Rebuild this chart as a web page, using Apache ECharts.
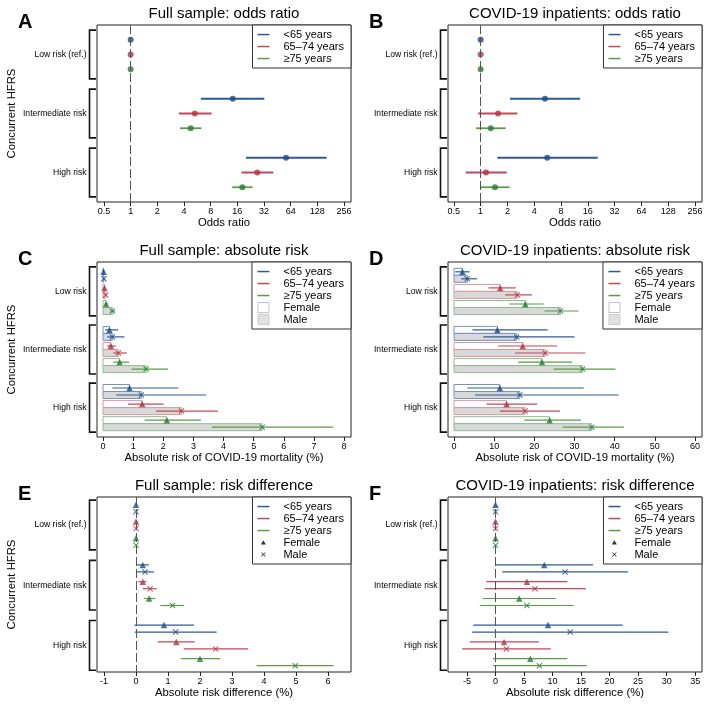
<!DOCTYPE html>
<html><head><meta charset="utf-8">
<script src="https://cdn.jsdelivr.net/npm/echarts@6/dist/echarts.min.js"></script>
<style>html,body{margin:0;padding:0;background:#fff}#c{width:709px;height:709px}</style>
</head><body><div id="c"></div><script>
// ---------- categories & tick labels ----------
const ageGroups = ['<65 years', '65–74 years', '≥75 years'];
const riskRef = ['Low risk (ref.)', 'Intermediate risk', 'High risk'];
const riskAbs = ['Low risk', 'Intermediate risk', 'High risk'];
const orTicks = [0.5, 1, 2, 4, 8, 16, 32, 64, 128, 256];
const absFullTicks = [0, 1, 2, 3, 4, 5, 6, 7, 8];
const absInpTicks = [0, 10, 20, 30, 40, 50, 60];
const rdFullTicks = [-1, 0, 1, 2, 3, 4, 5, 6];
const rdInpTicks = [-5, 0, 5, 10, 15, 20, 25, 30, 35];

// ---------- values: [estimate, lower, upper] for low / intermediate / high risk ----------
// A: full sample, odds ratio
const orFull_lt65   = [[1, null, null], [14.2, 6.2, 32.3], [56.7, 20, 163]];
const orFull_65to74 = [[1, null, null], [5.3, 3.5, 8.2], [26.9, 17.8, 40.8]];
const orFull_ge75   = [[1, null, null], [4.76, 3.6, 6.3], [18.2, 14.0, 23.8]];
// B: COVID-19 inpatients, odds ratio
const orInp_lt65   = [[1, null, null], [5.28, 2.14, 13.1], [5.6, 1.54, 20.7]];
const orInp_65to74 = [[1, null, null], [1.57, 0.94, 2.59], [1.15, 0.68, 1.97]];
const orInp_ge75   = [[1, null, null], [1.30, 0.89, 1.91], [1.45, 1.0, 2.11]];
// C: full sample, absolute risk (%)
const arFull_lt65_f   = [[0.02, 0.01, 0.04], [0.21, 0.07, 0.50], [0.88, 0.31, 2.50]];
const arFull_lt65_m   = [[0.03, 0.02, 0.05], [0.31, 0.14, 0.71], [1.27, 0.44, 3.42]];
const arFull_65to74_f = [[0.05, 0.03, 0.08], [0.26, 0.14, 0.42], [1.30, 0.83, 2.01]];
const arFull_65to74_m = [[0.09, 0.06, 0.13], [0.51, 0.34, 0.79], [2.60, 1.75, 3.81]];
const arFull_ge75_f   = [[0.10, 0.06, 0.16], [0.55, 0.34, 0.87], [2.12, 1.38, 3.25]];
const arFull_ge75_m   = [[0.31, 0.24, 0.40], [1.43, 0.95, 2.16], [5.28, 3.61, 7.64]];
// D: COVID-19 inpatients, absolute risk (%)
const arInp_lt65_f   = [[2.1, 0.3, 3.9], [10.8, 4.6, 23.3], [11.4, 3.3, 32.3]];
const arInp_lt65_m   = [[3.3, 1.8, 5.7], [15.6, 7.3, 30.0], [16.4, 5.25, 41.0]];
const arInp_65to74_f = [[11.5, 8.6, 15.4], [17.1, 11.0, 25.7], [13.1, 8.1, 20.7]];
const arInp_65to74_m = [[15.75, 12.75, 19.4], [22.7, 15.2, 32.7], [17.7, 11.4, 26.4]];
const arInp_ge75_f   = [[17.75, 13.75, 22.3], [21.9, 16.0, 29.4], [23.8, 17.5, 31.6]];
const arInp_ge75_m   = [[26.5, 22.5, 31.0], [32.0, 24.8, 40.2], [34.3, 27.1, 42.3]];
// E: full sample, risk difference (%)
const rdFull_lt65_f   = [[0, null, null], [0.21, 0.02, 0.40], [0.875, -0.05, 1.81]];
const rdFull_lt65_m   = [[0, null, null], [0.28, 0.02, 0.56], [1.24, -0.04, 2.52]];
const rdFull_65to74_f = [[0, null, null], [0.21, 0.07, 0.33], [1.26, 0.68, 1.84]];
const rdFull_65to74_m = [[0, null, null], [0.44, 0.21, 0.65], [2.49, 1.49, 3.51]];
const rdFull_ge75_f   = [[0, null, null], [0.41, 0.25, 0.60], [2.00, 1.40, 2.63]];
const rdFull_ge75_m   = [[0, null, null], [1.14, 0.76, 1.50], [4.98, 3.77, 6.17]];
// F: COVID-19 inpatients, risk difference (%)
const rdInp_lt65_f   = [[0, null, null], [8.54, 0.1, 17.1], [9.2, -3.9, 22.3]];
const rdInp_lt65_m   = [[0, null, null], [12.2, 1.2, 23.2], [13.1, -4.1, 30.3]];
const rdInp_65to74_f = [[0, null, null], [5.5, -1.6, 12.6], [1.5, -4.5, 7.6]];
const rdInp_65to74_m = [[0, null, null], [6.9, -1.9, 15.8], [1.9, -5.85, 9.7]];
const rdInp_ge75_f   = [[0, null, null], [4.15, -2.2, 10.6], [6.1, -0.47, 12.6]];
const rdInp_ge75_m   = [[0, null, null], [5.5, -2.75, 13.7], [7.7, -0.4, 16.0]];

// ---------- styling ----------
const FONT = 'Liberation Sans, Arial, Helvetica, sans-serif';
const COLORS = [
  {line: '#2c5a98', mark: '#1d4a88', bar: '#7393c4'},
  {line: '#c04a58', mark: '#b03242', bar: '#dd949c'},
  {line: '#5b9c46', mark: '#2a7838', bar: '#8cbc8f'}
];
function crossPath(cx, cy, r, t) {
  const p = [[cx-r+t, cy-r], [cx, cy-t], [cx+r-t, cy-r], [cx+r, cy-r+t], [cx+t, cy], [cx+r, cy+r-t],
             [cx+r-t, cy+r], [cx, cy+t], [cx-r+t, cy+r], [cx-r, cy+r-t], [cx-t, cy], [cx-r, cy-r+t]];
  return 'M' + p.map(q => q[0].toFixed(2) + ',' + q[1].toFixed(2)).join('L') + 'Z';
}
const SYM_X = 'path://' + crossPath(5, 5, 5, 1.25);
const ICON_LINE = 'path://M0,0M21,11M0,4.8L12,4.8L12,6.3L0,6.3Z';
const ICON_BOX = 'path://M0,0M21,11M0.5,0.5L11.5,0.5L11.5,10.5L0.5,10.5Z';
const ICON_TRI = 'path://M0,0M21,11M3.4,7.6L5.9,3.2L8.4,7.6Z';
const ICON_X = 'path://M0,0M21,11' + crossPath(5.9, 5.5, 2.3, 0.55);

// ---------- row layouts ----------
const layouts = {
  or:  {yMin: -1, yMax: 11, half: 1.65, pos: (g, a, s) => 4 * g + a, center: g => 4 * g + 1},
  abs: {yMin: 0, yMax: 25, half: 3.5, pos: (g, a, s) => 1.4 + 8.3 * g + 2.3 * a + s, center: g => 1.4 + 8.3 * g + 2.8},
  rd:  {yMin: 0, yMax: 25, half: 3.55, pos: (g, a, s) => 1.1 + 8.6 * g + 2.4 * a + s, center: g => 1.1 + 8.6 * g + 2.9}
};

const panels = [
  {letter: 'A', title: 'Full sample: odds ratio', left: 97, top: 25, height: 177, kind: 'or', xType: 'log',
   xMin: 0.417, xMax: 307, ticks: orTicks, xName: 'Odds ratio', groups: riskRef, yName: true, ref: 1,
   est: [orFull_lt65, orFull_65to74, orFull_ge75]},
  {letter: 'B', title: 'COVID-19 inpatients: odds ratio', left: 448, top: 25, height: 177, kind: 'or', xType: 'log',
   xMin: 0.43, xMax: 307, ticks: orTicks, xName: 'Odds ratio', groups: riskRef, yName: false, ref: 1,
   est: [orInp_lt65, orInp_65to74, orInp_ge75]},
  {letter: 'C', title: 'Full sample: absolute risk', left: 97, top: 262, height: 175, kind: 'abs',
   xMin: -0.2, xMax: 8.23, ticks: absFullTicks, xName: 'Absolute risk of COVID-19 mortality (%)', groups: riskAbs, yName: true,
   fem: [arFull_lt65_f, arFull_65to74_f, arFull_ge75_f], mal: [arFull_lt65_m, arFull_65to74_m, arFull_ge75_m]},
  {letter: 'D', title: 'COVID-19 inpatients: absolute risk', left: 448, top: 262, height: 175, kind: 'abs',
   xMin: -1.5, xMax: 61.75, ticks: absInpTicks, xName: 'Absolute risk of COVID-19 mortality (%)', groups: riskAbs, yName: false,
   fem: [arInp_lt65_f, arInp_65to74_f, arInp_ge75_f], mal: [arInp_lt65_m, arInp_65to74_m, arInp_ge75_m]},
  {letter: 'E', title: 'Full sample: risk difference', left: 97, top: 497, height: 175, kind: 'rd',
   xMin: -1.22, xMax: 6.72, ticks: rdFullTicks, xName: 'Absolute risk difference (%)', groups: riskRef, yName: true, ref: 0,
   fem: [rdFull_lt65_f, rdFull_65to74_f, rdFull_ge75_f], mal: [rdFull_lt65_m, rdFull_65to74_m, rdFull_ge75_m]},
  {letter: 'F', title: 'COVID-19 inpatients: risk difference', left: 448, top: 497, height: 175, kind: 'rd',
   xMin: -8.33, xMax: 36.2, ticks: rdInpTicks, xName: 'Absolute risk difference (%)', groups: riskRef, yName: false, ref: 0,
   fem: [rdInp_lt65_f, rdInp_65to74_f, rdInp_ge75_f], mal: [rdInp_lt65_m, rdInp_65to74_m, rdInp_ge75_m]}
];

const PW = 254, CW = 709;
const grid = [], xAxis = [], yAxis = [], series = [], legend = [], title = [];

function ciRender(color, lw) {
  return (params, api) => {
    const p1 = api.coord([api.value(0), api.value(2)]);
    const p2 = api.coord([api.value(1), api.value(2)]);
    return {type: 'line', shape: {x1: p1[0], y1: p1[1], x2: p2[0], y2: p2[1]}, style: {stroke: color, lineWidth: lw}};
  };
}
function barRender(color) {
  return (params, api) => {
    const a = api.coord([0, api.value(1)]);
    const b = api.coord([api.value(0), api.value(1)]);
    const h = api.size([0, 1])[1];
    return {type: 'rect', shape: {x: a[0], y: a[1] - h / 2, width: b[0] - a[0], height: h},
            style: {fill: api.value(2) ? '#d9d9d9' : '#ffffff', stroke: color, lineWidth: 1}};
  };
}
function bracketRender(lay, groups, xMin) {
  return (params, api) => {
    const g = api.value(0);
    const c = lay.center(g);
    const t = api.coord([xMin, c - lay.half]);
    const b = api.coord([xMin, c + lay.half]);
    const x0 = t[0];
    return {type: 'group', children: [
      {type: 'polyline', shape: {points: [[x0 - 1, t[1]], [x0 - 7.5, t[1]], [x0 - 7.5, b[1]], [x0 - 1, b[1]]]},
       style: {stroke: '#111', lineWidth: 1.6, fill: 'none'}},
      {type: 'text', style: {text: groups[g], x: x0 - 10.5, y: (t[1] + b[1]) / 2, align: 'right', verticalAlign: 'middle',
       fontSize: 8.6, fontFamily: FONT, fill: '#000'}}
    ]};
  };
}

panels.forEach((p, i) => {
  const lay = layouts[p.kind];
  grid.push({left: p.left, top: p.top, width: PW, height: p.height, show: true, borderColor: '#222', borderWidth: 1, backgroundColor: '#fff'});
  const xa = {gridIndex: i, type: p.xType || 'value', min: p.xMin, max: p.xMax, position: 'bottom',
    axisLine: {show: false, onZero: false}, splitLine: {show: false}, minorTick: {show: false},
    axisTick: {show: true, length: 4, customValues: p.ticks, lineStyle: {color: '#222'}},
    axisLabel: {customValues: p.ticks, fontSize: 9, color: '#000', margin: 5, fontFamily: FONT},
    name: p.xName, nameLocation: 'middle', nameGap: 15,
    nameTextStyle: {fontSize: 11.3, color: '#000', fontFamily: FONT}};
  if (p.xType === 'log') xa.logBase = 2;
  xAxis.push(xa);
  yAxis.push({gridIndex: i, type: 'value', inverse: true, min: lay.yMin, max: lay.yMax, position: 'left',
    axisLine: {show: false, onZero: false}, axisTick: {show: false}, axisLabel: {show: false}, splitLine: {show: false},
    name: p.yName ? 'Concurrent HFRS' : '', nameLocation: 'middle', nameRotate: 90, nameGap: 80,
    nameTextStyle: {fontSize: 11.3, color: '#000', fontFamily: FONT}});
  title.push({text: p.title, left: p.left + PW / 2, top: p.top - 19, textAlign: 'center', padding: 0,
    textStyle: {fontSize: 15, fontWeight: 'normal', color: '#000', fontFamily: FONT}});
  title.push({text: p.letter, left: p.left - 79, top: p.top - 13, padding: 0,
    textStyle: {fontSize: 20, fontWeight: 'bold', color: '#000', fontFamily: FONT}});

  // reference line
  if (p.ref !== undefined) {
    series.push({type: 'line', name: '_ref' + i, xAxisIndex: i, yAxisIndex: i, data: [], silent: true, z: 1,
      markLine: {silent: true, symbol: 'none', label: {show: false}, animation: false,
        lineStyle: {color: '#555', type: [9, 3], width: 1}, data: [{xAxis: p.ref}]}});
  }
  // brackets with group labels
  series.push({type: 'custom', name: '_br' + i, xAxisIndex: i, yAxisIndex: i, silent: true, clip: false,
    encode: {y: 0}, data: [[0], [1], [2]], renderItem: bracketRender(lay, p.groups, p.xMin)});

  for (let a = 0; a < 3; a++) {
    const col = COLORS[a], name = ageGroups[a];
    if (p.kind === 'or') {
      const ci = [], pts = [];
      p.est[a].forEach((v, g) => {
        if (v[1] !== null) ci.push([v[1], v[2], lay.pos(g, a)]);
        pts.push([v[0], lay.pos(g, a)]);
      });
      series.push({type: 'custom', name, xAxisIndex: i, yAxisIndex: i, silent: true, z: 3, color: col.line,
        encode: {x: [0, 1], y: 2}, data: ci, renderItem: ciRender(col.line, 1.8)});
      series.push({type: 'scatter', name, xAxisIndex: i, yAxisIndex: i, silent: true, z: 4, symbol: 'circle', symbolSize: 6,
        itemStyle: {color: col.mark}, data: pts});
    } else {
      const bars = [], ci = [], ptsF = [], ptsM = [];
      [p.fem[a], p.mal[a]].forEach((arr, s) => {
        arr.forEach((v, g) => {
          const y = lay.pos(g, a, s);
          bars.push([v[0], y, s]);
          if (v[1] !== null) ci.push([v[1], v[2], y]);
          (s ? ptsM : ptsF).push([v[0], y]);
        });
      });
      if (p.kind === 'abs') {
        series.push({type: 'custom', name, xAxisIndex: i, yAxisIndex: i, silent: true, z: 2, color: col.line,
          encode: {x: 0, y: 1}, data: bars, renderItem: barRender(col.bar)});
      }
      series.push({type: 'custom', name, xAxisIndex: i, yAxisIndex: i, silent: true, z: 3, color: col.line,
        encode: {x: [0, 1], y: 2}, data: ci, renderItem: ciRender(col.line, 1.2)});
      series.push({type: 'scatter', name, xAxisIndex: i, yAxisIndex: i, silent: true, z: 4, symbol: 'triangle', symbolSize: 6.5,
        itemStyle: {color: col.mark}, data: ptsF});
      series.push({type: 'scatter', name, xAxisIndex: i, yAxisIndex: i, silent: true, z: 4, symbol: SYM_X, symbolSize: 6,
        itemStyle: {color: col.mark}, data: ptsM});
    }
  }

  const ld = ageGroups.map((n, a) => ({name: n, icon: ICON_LINE, itemStyle: {color: COLORS[a].line, borderWidth: 0}}));
  if (p.kind === 'abs') {
    ld.push({name: 'Female', icon: ICON_BOX, itemStyle: {color: '#ffffff', borderColor: '#b5b5b5', borderWidth: 1}});
    ld.push({name: 'Male', icon: ICON_BOX, itemStyle: {color: '#d9d9d9', borderColor: '#c4c4c4', borderWidth: 1}});
  } else if (p.kind === 'rd') {
    ld.push({name: 'Female', icon: ICON_TRI, itemStyle: {color: '#000', borderWidth: 0}});
    ld.push({name: 'Male', icon: ICON_X, itemStyle: {color: '#000', borderWidth: 0}});
  }
  legend.push({orient: 'vertical', right: CW - (p.left + PW), top: p.top, padding: [3.5, 7, 3.5, 5], itemGap: 0,
    itemWidth: 21, itemHeight: 11, borderColor: '#333', borderWidth: 1, backgroundColor: '#fff', selectedMode: false,
    textStyle: {fontSize: 11, color: '#000', fontFamily: FONT, lineHeight: 12}, data: ld});
});
// legend-only entries for sex
series.push({type: 'scatter', name: 'Female', xAxisIndex: 2, yAxisIndex: 2, data: [], itemStyle: {color: '#000'}});
series.push({type: 'scatter', name: 'Male', xAxisIndex: 2, yAxisIndex: 2, data: [], itemStyle: {color: '#000'}});

const chart = echarts.init(document.getElementById('c'), null, {renderer: 'canvas'});
chart.setOption({animation: false, backgroundColor: '#fff', textStyle: {fontFamily: FONT},
  title, grid, xAxis, yAxis, legend, series});
</script></body></html>
